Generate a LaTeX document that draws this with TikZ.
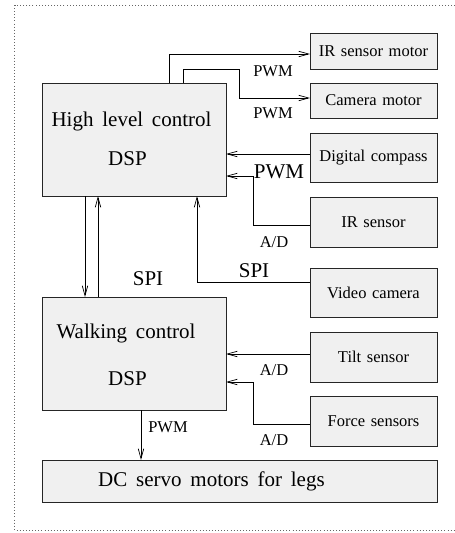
\documentclass[tikz,border=0pt]{standalone}
\usepackage{fontspec}
\setmainfont{Liberation Serif}
\usetikzlibrary{arrows.meta,calc}
\definecolor{boxfill}{HTML}{F0F0F0}
\newcommand\mybigfont{\fontsize{21}{24}\selectfont\spaceskip=8.8pt\relax}
\newcommand\mysmallfont{\fontsize{16.5}{19}\selectfont\spaceskip=5.6pt\relax}
\tikzset{
  blk/.style={draw=black!85, line width=0.9pt, fill=boxfill, rectangle, inner sep=0pt, outer sep=0pt},
  txtbig/.style={font=\mybigfont, inner sep=0pt},
  txtsmall/.style={font=\mysmallfont, inner sep=0pt},
  arr/.style={-{Straight Barb[length=10pt,width=5.5pt]}, line width=0.7pt}
}
\begin{document}
\begin{tikzpicture}[x=1pt,y=-1pt]
\useasboundingbox (0,0) rectangle (455,533);
% dotted frame
\draw[gray!80!black, line width=0.9pt, dash pattern=on 1pt off 2.1pt] (455,5) -- (14.7,5) -- (14.7,530) -- (455,530);
% main blocks
\node[blk, minimum width=184pt, minimum height=113pt] (hlc) at (134,139.5) {};
\node[blk, minimum width=184pt, minimum height=113pt] (wc) at (134,353.5) {};
\node[blk, minimum width=395pt, minimum height=42pt] (dc) at (239.5,481) {};
\node[txtbig] (hlct1) at (131.5,121) {High level control};
\node[txtbig] (hlct2) at (127.5,159) {DSP};
\node[txtbig] (wct1) at (126,333) {Walking control};
\node[txtbig] (wct2) at (127.5,379) {DSP};
\node[txtbig, anchor=west] (dct) at (98,481) {DC servo motors for legs};
% peripheral blocks
\node[blk, minimum width=127pt, minimum height=36pt, txtsmall] (irm) at (373.5,51) {IR sensor motor};
\node[blk, minimum width=127pt, minimum height=35pt, txtsmall] (cam) at (373.5,100.5) {Camera motor};
\node[blk, minimum width=127pt, minimum height=49pt, txtsmall] (comp) at (373.5,157.5) {Digital compass};
\node[blk, minimum width=127pt, minimum height=50pt, txtsmall] (irs) at (373.5,222) {IR sensor};
\node[blk, minimum width=127pt, minimum height=49pt, txtsmall] (vid) at (373.5,292.5) {Video camera};
\node[blk, minimum width=127pt, minimum height=50pt, txtsmall] (tilt) at (373.5,357) {Tilt sensor};
\node[blk, minimum width=127pt, minimum height=50pt, txtsmall] (force) at (373.5,421) {Force sensors};
% connectors
\draw[arr] ([xshift=127pt]hlc.north west) |- ([yshift=-3pt]irm.west);
\coordinate (camj) at (239,69);
\draw[arr] ([xshift=141pt]hlc.north west) |- (camj) |- ([yshift=2.5pt]cam.west);
\draw[arr] ([yshift=3.5pt]comp.west) -- ([yshift=3.5pt]comp.west -| hlc.east);
\coordinate (irsj) at (253,176);
\draw[arr] ([yshift=-3pt]irs.west) -| (irsj) -- (irsj -| hlc.east);
\draw[arr] ([yshift=10.5pt]vid.west) -| ([xshift=155pt]hlc.south west);
\draw[arr] ([xshift=43pt]hlc.south west) -- ([xshift=43pt]wc.north west);
\draw[arr] ([xshift=56pt]wc.north west) -- ([xshift=56pt]hlc.south west);
\draw[arr] ([yshift=3pt]tilt.west) -- ([yshift=3pt]tilt.west -| wc.east);
\coordinate (forcej) at (253,382);
\draw[arr] ([yshift=-3pt]force.west) -| (forcej) -- (forcej -| wc.east);
\draw[arr] ([xshift=99pt]wc.south west) -- ([xshift=99pt]dc.north west);
% labels
\node[txtsmall] (l1) at (273,71) {PWM};
\node[txtsmall] (l2) at (273,113) {PWM};
\node[txtbig] (l3) at (279,172) {PWM};
\node[txtsmall] (l4) at (274,242) {A/D};
\node[txtbig] (l5) at (254,271) {SPI};
\node[txtbig] (l6) at (148,279) {SPI};
\node[txtsmall] (l7) at (274,370) {A/D};
\node[txtsmall] (l8) at (274,440) {A/D};
\node[txtsmall] (l9) at (168,427) {PWM};
\end{tikzpicture}
\end{document}
